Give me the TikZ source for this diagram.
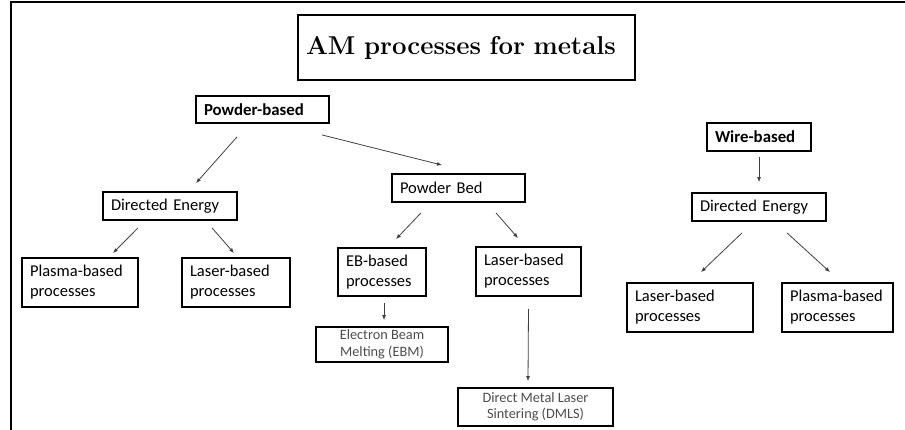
\documentclass[tikz,border=0pt]{standalone}
\usepackage{fontspec}
\setmainfont{Carlito}
\usetikzlibrary{arrows.meta,calc}

\begin{document}
\begin{tikzpicture}[
  x=1pt, y=-1pt,
  box/.style={rectangle, draw, line width=1.8pt, align=left, inner xsep=8pt,
              inner ysep=0pt, font=\fontsize{16.5}{20}\selectfont},
  bbox/.style={box, font=\fontsize{16.8}{20}\selectfont\bfseries},
  sbox/.style={rectangle, draw, line width=1.8pt, align=center, inner sep=0pt,
               text=black!70, font=\fontsize{14.3}{16.5}\selectfont},
  arr/.style={draw=black!75, line width=0.8pt, -{Latex[length=5pt,width=4pt]}},
]
  \useasboundingbox (0,0) rectangle (905,430);

  % page frame (cut at right and bottom)
  \draw[line width=2.2pt] (11,430) -- (11,2) -- (905,2);

  % title
  \node[box, text width=321pt, minimum height=65pt,
        font=\fontsize{25.8}{30}\selectfont\bfseries] (title) at (466.5,47.5)
       {\fontspec{Latin Modern Roman}AM processes for metals};

  % powder-based branch
  \node[bbox, text width=117pt, minimum height=27pt] (pb) at (262.5,109.5) {Powder-based};
  \node[box, text width=118pt, minimum height=28pt] (deL) at (170,206) {Directed Energy};
  \node[box, text width=117pt, minimum height=28pt] (bed) at (458.5,188) {Powder Bed};

  \node[box, text width=100pt, minimum height=49pt] (plasmaL) at (80,282.5) {Plasma-based\\processes};
  \node[box, text width=92pt, minimum height=49pt] (laserL) at (236,282.5) {Laser-based\\processes};

  \node[box, text width=72pt, minimum height=48pt] (eb) at (382,272) {EB-based\\processes};
  \node[box, text width=89pt, minimum height=49pt] (laserM) at (528.5,271.5) {Laser-based\\processes};

  \node[sbox, minimum width=132pt, minimum height=35pt] (ebm) at (382,344.5)
       {Electron Beam\\Melting (EBM)};
  \node[sbox, minimum width=155pt, minimum height=38pt] (dmls) at (535.5,407)
       {Direct Metal Laser\\Sintering (DMLS)};

  % wire-based branch
  \node[bbox, text width=88pt, minimum height=28pt] (wire) at (759,137) {Wire-based};
  \node[box, text width=118pt, minimum height=28pt] (deR) at (759,207) {Directed Energy};
  \node[box, text width=110pt, minimum height=49pt] (laserR) at (690,307.5) {Laser-based\\processes};
  \node[box, text width=95pt, minimum height=49pt] (plasmaR) at (837.5,307.5) {Plasma-based\\processes};

  % arrows
  \draw[arr] ($(pb.south)+(-25.5,13)$) -- ($(deL.north)+(26,-8)$);
  \draw[arr] ($(pb.south east)+(-8,11)$) -- ($(bed.north)+(-16.5,-8)$);
  \draw[arr] ($(deL.south)+(-32,7)$) -- ($(plasmaL.north)+(33,-4)$);
  \draw[arr] ($(deL.south)+(42,7)$) -- ($(laserL.north)+(-2,-4)$);
  \draw[arr] ($(bed.south)+(-37.5,10)$) -- ($(eb.north)+(14,-8)$);
  \draw[arr] ($(bed.south)+(37.5,10)$) -- ($(laserM.north)+(-10.5,-8)$);
  \draw[arr] ($(eb.south)+(2,6)$) -- ($(ebm.north)+(2,-6)$);
  \draw[arr] ($(laserM.south)+(0,12)$) -- ($(dmls.north)+(-7.5,-6)$);
  \draw[arr] ($(wire.south)+(0,5)$) -- ($(deR.north)+(0,-10)$);
  \draw[arr] ($(deR.south)+(-17,11)$) -- ($(laserR.north)+(11,-10)$);
  \draw[arr] ($(deR.south)+(28,11)$) -- ($(plasmaR.north)+(-7.5,-10)$);
\end{tikzpicture}
\end{document}
